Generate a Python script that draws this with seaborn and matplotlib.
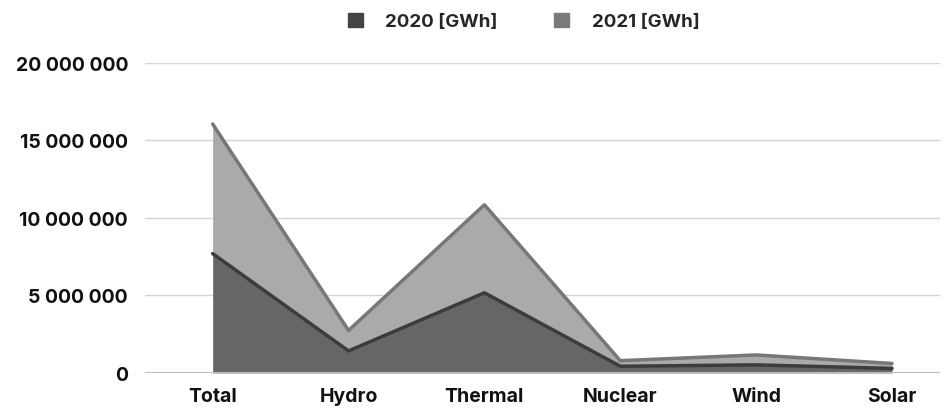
import numpy as np
import pandas as pd
import seaborn as sns
import matplotlib.pyplot as plt
from matplotlib.ticker import FuncFormatter
from matplotlib.patches import Patch

categories = ['Total', 'Hydro', 'Thermal', 'Nuclear', 'Wind', 'Solar']
gwh_2020 = [7700000, 1420000, 5170000, 430000, 520000, 290000]
gwh_2021 = [8360000, 1320000, 5680000, 360000, 640000, 320000]
series_labels = ['2020 [GWh]', '2021 [GWh]']
y_ticks = [0, 5000000, 10000000, 15000000, 20000000]

sns.set_style('white')
plt.rcParams['font.family'] = ['Inter', 'DejaVu Sans']

df = pd.DataFrame({'category': categories, 'y2020': gwh_2020, 'y2021': gwh_2021})
df['pos'] = np.arange(len(df))
df['top'] = df['y2020'] + df['y2021']

fig = plt.figure(figsize=(9.52, 4.1), dpi=100)
ax = fig.add_axes([0.152, 0.088, 0.835, 0.756])

for t in y_ticks[1:]:
    ax.axhline(t, color='#d4d4d4', lw=1, zorder=0)

ax.fill_between(df['pos'], 0, df['y2020'], color='#666666', lw=0, zorder=2)
ax.fill_between(df['pos'], df['y2020'], df['top'], color='#aaaaaa', lw=0, zorder=2)
sns.lineplot(data=df, x='pos', y='top', ax=ax, color='#777777', lw=2.5, zorder=3)
sns.lineplot(data=df, x='pos', y='y2020', ax=ax, color='#3c3c3c', lw=2.5, zorder=3)
ax.axhline(0, color='#bdbdbd', lw=1.5, zorder=4)

ax.set_xlim(-0.5, 5.35)
ax.set_ylim(0, 20000000)
ax.set_xticks(df['pos'])
ax.set_xticklabels(categories)
ax.set_yticks(y_ticks)
ax.yaxis.set_major_formatter(FuncFormatter(lambda v, p: f'{int(v):,}'.replace(',', ' ')))
ax.set_xlabel('')
ax.set_ylabel('')
ax.tick_params(axis='both', length=0, labelsize=14, colors='#111111')
ax.tick_params(axis='y', pad=12)
ax.tick_params(axis='x', pad=10)
for lbl in ax.get_xticklabels() + ax.get_yticklabels():
    lbl.set_fontweight('bold')
sns.despine(ax=ax, left=True, bottom=True)

handles = [Patch(color='#444444'), Patch(color='#7a7a7a')]
fig.legend(handles, series_labels, loc='center', bbox_to_anchor=(0.55, 0.945), ncol=2,
           frameon=False, prop={'weight': 'bold', 'size': 13.5}, handlelength=0.8,
           handleheight=0.8, columnspacing=3.0, handletextpad=1.2)

fig.savefig('out.png', dpi=100)
